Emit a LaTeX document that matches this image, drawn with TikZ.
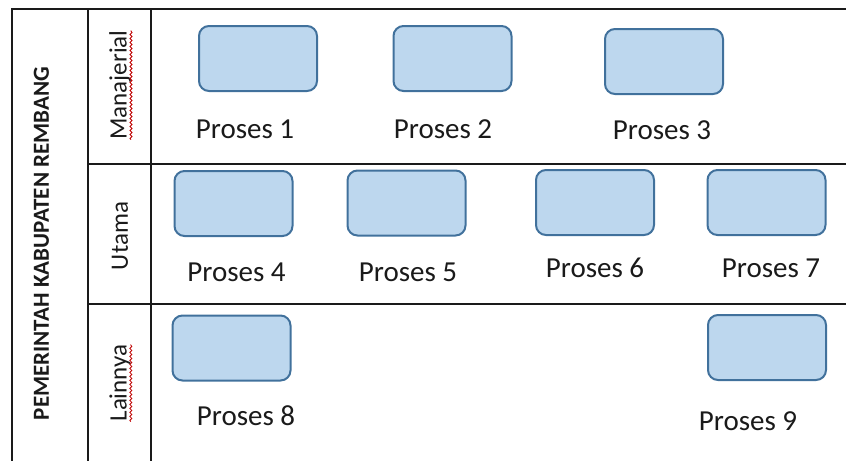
\documentclass[tikz,border=0pt]{standalone}
\usepackage{fontspec}
\setmainfont{Carlito}
\usetikzlibrary{positioning,decorations.pathmorphing}
\definecolor{BoxFill}{HTML}{BDD7EE}
\definecolor{BoxLine}{HTML}{41719C}
\definecolor{Ink}{HTML}{1A1A1A}
\tikzset{
  prosesbox/.style={
    draw=BoxLine,
    fill=BoxFill,
    line width=2pt,
    rounded corners=10pt,
    minimum width=118pt,
    minimum height=65pt,
    inner sep=0pt
  },
  prosestext/.style={font=\fontsize{29}{32}\selectfont, text=Ink, inner sep=0pt},
  lanetext/.style={font=\fontsize{25}{28}\selectfont, text=Ink, rotate=90, inner sep=0pt},
  titletext/.style={font=\bfseries\fontsize{23}{26}\selectfont, text=Ink, rotate=90, inner sep=0pt},
  gridline/.style={draw=Ink, line width=1.5pt},
  typo/.style={draw=red!75!black, line width=0.8pt, decorate,
    decoration={snake, amplitude=1pt, segment length=4pt}}
}

\begin{document}
\begin{tikzpicture}[x=1pt, y=-1pt]
  \useasboundingbox (0,0) rectangle (846,461);

  % table frame
  \draw[gridline, line width=2.5pt] (11,9) -- (846,9);
  \draw[gridline] (12,9) -- (12,461);
  \draw[gridline] (88,9) -- (88,461);
  \draw[gridline] (151,9) -- (151,461);
  \draw[gridline] (87,164) -- (846,164);
  \draw[gridline] (87,304) -- (846,304);

  % lanes
  \node[titletext] (title) at (41.5,243.5) {PEMERINTAH KABUPATEN REMBANG};
  \node[lanetext] (l1) at (120,85) {Manajerial};
  \node[lanetext] (l2) at (120,236) {Utama};
  \node[lanetext] (l3) at (120,383) {Lainnya};
  \draw[typo] (l1.south west) -- (l1.south east);
  \draw[typo] (l3.south west) -- (l3.south east);

  % processes
  \node[prosesbox] (p1) at (258,58.5) {};
  \node[prosesbox] (p2) at (452.5,58.5) {};
  \node[prosesbox] (p3) at (664,61.5) {};
  \node[prosesbox] (p4) at (233.5,203.5) {};
  \node[prosesbox] (p5) at (406.5,203) {};
  \node[prosesbox] (p6) at (595,202.5) {};
  \node[prosesbox] (p7) at (766.5,202.5) {};
  \node[prosesbox] (p8) at (231.5,348) {};
  \node[prosesbox] (p9) at (767,347.5) {};

  \node[prosestext] (t1) at (245,129) {Proses 1};
  \node[prosestext] (t2) at (443,129) {Proses 2};
  \node[prosestext] (t3) at (662,130) {Proses 3};
  \node[prosestext] (t4) at (236.5,272) {Proses 4};
  \node[prosestext] (t5) at (408,272) {Proses 5};
  \node[prosestext] (t6) at (595,268) {Proses 6};
  \node[prosestext] (t7) at (771,268) {Proses 7};
  \node[prosestext] (t8) at (246,415.5) {Proses 8};
  \node[prosestext] (t9) at (748,421) {Proses 9};
\end{tikzpicture}
\end{document}
